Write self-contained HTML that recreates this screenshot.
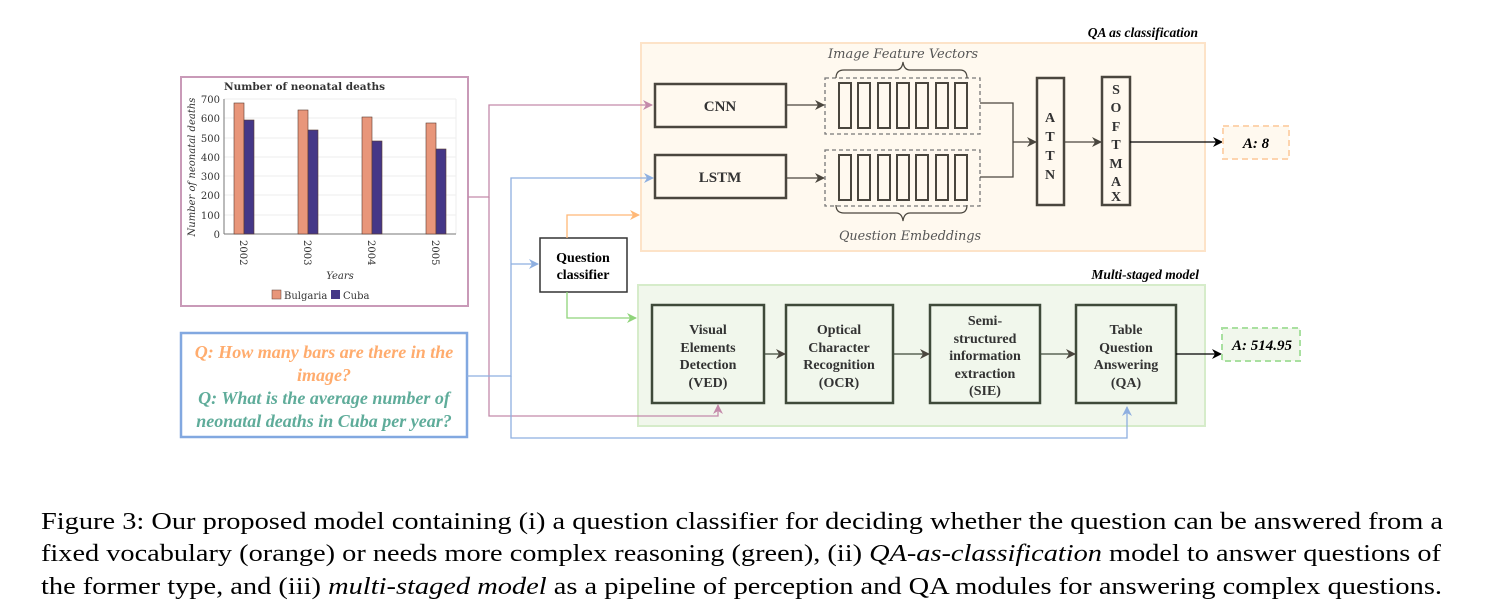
<!DOCTYPE html>
<html><head><meta charset="utf-8"><style>
html,body{margin:0;padding:0;background:#fff;}
svg{display:block;}
.s{font-family:"Liberation Serif","Times New Roman",serif;}
.d{font-family:"DejaVu Serif",serif;}
</style></head><body>
<svg width="1485" height="612" viewBox="0 0 1485 612" xmlns="http://www.w3.org/2000/svg">
<defs>
<marker id="ag" markerWidth="10" markerHeight="10" refX="9" refY="5" orient="auto" markerUnits="userSpaceOnUse"><path d="M0,0 L10,5 L0,10 L3,5 z" fill="#4a463e"/></marker>
<marker id="ab" markerWidth="10" markerHeight="10" refX="9" refY="5" orient="auto" markerUnits="userSpaceOnUse"><path d="M0,0 L10,5 L0,10 L3,5 z" fill="#000"/></marker>
<marker id="ap" markerWidth="10" markerHeight="10" refX="9" refY="5" orient="auto" markerUnits="userSpaceOnUse"><path d="M0,0 L10,5 L0,10 L3,5 z" fill="#c48aaa"/></marker>
<marker id="abl" markerWidth="10" markerHeight="10" refX="9" refY="5" orient="auto" markerUnits="userSpaceOnUse"><path d="M0,0 L10,5 L0,10 L3,5 z" fill="#8eafe0"/></marker>
<marker id="ao" markerWidth="10" markerHeight="10" refX="9" refY="5" orient="auto" markerUnits="userSpaceOnUse"><path d="M0,0 L10,5 L0,10 L3,5 z" fill="#ffb877"/></marker>
<marker id="agr" markerWidth="10" markerHeight="10" refX="9" refY="5" orient="auto" markerUnits="userSpaceOnUse"><path d="M0,0 L10,5 L0,10 L3,5 z" fill="#8fd47a"/></marker>
</defs>

<rect x="641" y="43" width="564" height="208" fill="#fff9ef" stroke="#fde3c8" stroke-width="2"/>
<rect x="638" y="285" width="567" height="141" fill="#f1f7ec" stroke="#d6ecca" stroke-width="2"/>
<text class="s" x="1198" y="37" text-anchor="end" font-size="13.5" font-weight="bold" font-style="italic">QA as classification</text>
<text class="s" x="1199" y="279" text-anchor="end" font-size="13.5" font-weight="bold" font-style="italic">Multi-staged model</text>

<rect x="181" y="77" width="287" height="229" fill="#fff" stroke="#c99ab8" stroke-width="2"/>
<g class="d" fill="#333">
<text x="224" y="90" font-size="10.5" font-weight="bold">Number of neonatal deaths</text>
<g stroke="#eee" stroke-width="1">
<line x1="224" y1="99" x2="456" y2="99"/><line x1="224" y1="118" x2="456" y2="118"/><line x1="224" y1="138" x2="456" y2="138"/><line x1="224" y1="157" x2="456" y2="157"/><line x1="224" y1="176" x2="456" y2="176"/><line x1="224" y1="195" x2="456" y2="195"/><line x1="224" y1="215" x2="456" y2="215"/>
<line x1="456" y1="99" x2="456" y2="234"/>
</g>
<line x1="224" y1="99" x2="224" y2="234" stroke="#777"/>
<line x1="224" y1="234" x2="456" y2="234" stroke="#777"/>
<g font-size="10" text-anchor="end">
<text x="220" y="103">700</text><text x="220" y="122">600</text><text x="220" y="142">500</text><text x="220" y="161">400</text><text x="220" y="180">300</text><text x="220" y="199">200</text><text x="220" y="219">100</text><text x="220" y="238">0</text>
</g>
<text transform="translate(195,167) rotate(-90)" font-size="10" font-style="italic" text-anchor="middle">Number of neonatal deaths</text>
<g stroke="#5a3a30" stroke-width="0.6">
<rect x="234" y="103" width="10" height="131" fill="#e8967a"/><rect x="244" y="120" width="10" height="114" fill="#453787"/>
<rect x="298" y="110" width="10" height="124" fill="#e8967a"/><rect x="308" y="130" width="10" height="104" fill="#453787"/>
<rect x="362" y="117" width="10" height="117" fill="#e8967a"/><rect x="372" y="141" width="10" height="93" fill="#453787"/>
<rect x="426" y="123" width="10" height="111" fill="#e8967a"/><rect x="436" y="149" width="10" height="85" fill="#453787"/>
</g>
<g font-size="10">
<text transform="translate(240,240) rotate(90)">2002</text>
<text transform="translate(304,240) rotate(90)">2003</text>
<text transform="translate(368,240) rotate(90)">2004</text>
<text transform="translate(432,240) rotate(90)">2005</text>
</g>
<text x="340" y="279" font-size="10" font-style="italic" text-anchor="middle">Years</text>
<rect x="272" y="290" width="9" height="9" fill="#e8967a" stroke="#5a3a30" stroke-width="0.5"/>
<text x="284" y="299" font-size="10">Bulgaria</text>
<rect x="331" y="290" width="9" height="9" fill="#453787"/>
<text x="343" y="299" font-size="10">Cuba</text>
</g>

<rect x="181" y="333" width="286" height="104" fill="#fff" stroke="#82a8e0" stroke-width="2.5"/>
<g class="s" font-size="18" font-weight="bold" font-style="italic" text-anchor="middle">
<text x="324" y="358" fill="#ffac6e">Q: How many bars are there in the</text>
<text x="324" y="381" fill="#ffac6e">image?</text>
<text x="324" y="404" fill="#5fac9a">Q: What is the average number of</text>
<text x="324" y="427" fill="#5fac9a">neonatal deaths in Cuba per year?</text>
</g>

<rect x="540" y="238" width="87" height="54" fill="#fff" stroke="#333" stroke-width="1.5"/>
<text class="s" x="583" y="262" text-anchor="middle" font-size="14" font-weight="bold">Question</text>
<text class="s" x="583" y="279" text-anchor="middle" font-size="14" font-weight="bold">classifier</text>

<polyline points="468,197 489,197 489,105 652,105" fill="none" stroke="#c48aaa" stroke-width="1.3" marker-end="url(#ap)"/>
<polyline points="489,197 489,416 718,416 718,405" fill="none" stroke="#c48aaa" stroke-width="1.3" marker-end="url(#ap)"/>
<polyline points="467,376 511,376 511,178 653,178" fill="none" stroke="#8eafe0" stroke-width="1.3" marker-end="url(#abl)"/>
<polyline points="511,264 538,264" fill="none" stroke="#8eafe0" stroke-width="1.3" marker-end="url(#abl)"/>
<polyline points="511,376 511,438 1127,438 1127,407" fill="none" stroke="#8eafe0" stroke-width="1.3" marker-end="url(#abl)"/>
<polyline points="567,238 567,215 639,215" fill="none" stroke="#ffb877" stroke-width="1.3" marker-end="url(#ao)"/>
<polyline points="567,292 567,318 636,318" fill="none" stroke="#8fd47a" stroke-width="1.3" marker-end="url(#agr)"/>

<g stroke="#4a463e" stroke-width="2.5" fill="none">
<rect x="655" y="84" width="131" height="43"/>
<rect x="655" y="155" width="131" height="43"/>
<rect x="1037" y="78" width="27" height="127"/>
<rect x="1102" y="77" width="28" height="128"/>
</g>
<g class="s" font-weight="bold" font-size="15" fill="#333" text-anchor="middle">
<text x="720" y="111">CNN</text>
<text x="720" y="182">LSTM</text>
</g>
<g class="s" font-weight="bold" font-size="14" fill="#333" text-anchor="middle">
<text x="1050" y="122">A</text><text x="1050" y="141">T</text><text x="1050" y="160">T</text><text x="1050" y="179">N</text>
<text x="1116" y="94">S</text><text x="1116" y="112">O</text><text x="1116" y="131">F</text><text x="1116" y="149">T</text><text x="1116" y="168">M</text><text x="1116" y="186">A</text><text x="1116" y="204" dy="-3">X</text>
</g>
<rect x="825" y="78" width="155" height="56" fill="none" stroke="#777" stroke-width="1.3" stroke-dasharray="4,3"/>
<rect x="825" y="150" width="155" height="56" fill="none" stroke="#777" stroke-width="1.3" stroke-dasharray="4,3"/>
<g stroke="#4a463e" stroke-width="2" fill="none">
<rect x="839" y="83" width="12" height="45"/><rect x="858" y="83" width="12" height="45"/><rect x="878" y="83" width="12" height="45"/><rect x="897" y="83" width="12" height="45"/><rect x="916" y="83" width="12" height="45"/><rect x="936" y="83" width="12" height="45"/><rect x="955" y="83" width="12" height="45"/>
<rect x="839" y="155" width="12" height="45"/><rect x="858" y="155" width="12" height="45"/><rect x="878" y="155" width="12" height="45"/><rect x="897" y="155" width="12" height="45"/><rect x="916" y="155" width="12" height="45"/><rect x="936" y="155" width="12" height="45"/><rect x="955" y="155" width="12" height="45"/>
</g>
<g stroke="#4a463e" stroke-width="1.2" fill="none">
<path d="M836,78 Q836,70 844,70 L896,70 Q902,70 903,62 Q904,70 910,70 L960,70 Q967,70 967,78"/>
<path d="M836,205 Q836,213 844,213 L896,213 Q902,213 903,221 Q904,213 910,213 L960,213 Q967,213 967,205"/>
</g>
<g class="d" font-style="italic" font-size="13" fill="#555" text-anchor="middle">
<text x="903" y="58" textLength="150" lengthAdjust="spacingAndGlyphs">Image Feature Vectors</text>
<text x="910" y="240" textLength="142" lengthAdjust="spacingAndGlyphs">Question Embeddings</text>
</g>
<g stroke="#4a463e" stroke-width="1.3" fill="none">
<line x1="786" y1="105" x2="824" y2="105" marker-end="url(#ag)"/>
<line x1="786" y1="178" x2="824" y2="178" marker-end="url(#ag)"/>
<polyline points="980,103 1013,103 1013,177 980,177"/>
<line x1="1013" y1="142" x2="1036" y2="142" marker-end="url(#ag)"/>
<line x1="1064" y1="142" x2="1101" y2="142" marker-end="url(#ag)"/>
</g>
<line x1="1130" y1="142" x2="1222" y2="142" stroke="#000" stroke-width="1.3" marker-end="url(#ab)"/>
<rect x="1223" y="126" width="66" height="33" fill="#fff9ef" stroke="#fdd4ae" stroke-width="2" stroke-dasharray="6,4"/>
<text class="s" x="1256" y="148" text-anchor="middle" font-size="15" font-weight="bold" font-style="italic">A: 8</text>

<g stroke="#3f4a3a" stroke-width="2.5" fill="none">
<rect x="652" y="305" width="112" height="98"/>
<rect x="786" y="305" width="107" height="98"/>
<rect x="930" y="305" width="110" height="98"/>
<rect x="1076" y="305" width="100" height="98"/>
</g>
<g class="s" font-weight="bold" font-size="14" fill="#333" text-anchor="middle">
<text x="708" y="334">Visual</text><text x="708" y="352">Elements</text><text x="708" y="369">Detection</text><text x="708" y="387">(VED)</text>
<text x="839" y="334">Optical</text><text x="839" y="352">Character</text><text x="839" y="369">Recognition</text><text x="839" y="387">(OCR)</text>
<text x="985" y="325">Semi-</text><text x="985" y="343">structured</text><text x="985" y="360">information</text><text x="985" y="378">extraction</text><text x="985" y="395">(SIE)</text>
<text x="1126" y="334">Table</text><text x="1126" y="352">Question</text><text x="1126" y="369">Answering</text><text x="1126" y="387">(QA)</text>
</g>
<g stroke="#3f4a3a" stroke-width="1.3">
<line x1="764" y1="354" x2="785" y2="354" marker-end="url(#ag)"/>
<line x1="893" y1="354" x2="929" y2="354" marker-end="url(#ag)"/>
<line x1="1040" y1="354" x2="1075" y2="354" marker-end="url(#ag)"/>
</g>
<line x1="1176" y1="354" x2="1221" y2="354" stroke="#000" stroke-width="1.3" marker-end="url(#ab)"/>
<rect x="1222" y="328" width="78" height="33" fill="#f1f7ec" stroke="#a9e0a0" stroke-width="2" stroke-dasharray="6,4"/>
<text class="s" x="1262" y="350" text-anchor="middle" font-size="15" font-weight="bold" font-style="italic">A: 514.95</text>

<g class="s" font-size="24" fill="#000">
<text x="41" y="529" textLength="1402" lengthAdjust="spacingAndGlyphs">Figure 3: Our proposed model containing (i) a question classifier for deciding whether the question can be answered from a</text>
<text x="41" y="561" textLength="1400" lengthAdjust="spacingAndGlyphs">fixed vocabulary (orange) or needs more complex reasoning (green), (ii) <tspan font-style="italic">QA-as-classification</tspan> model to answer questions of</text>
<text x="41" y="594" textLength="1401" lengthAdjust="spacingAndGlyphs">the former type, and (iii) <tspan font-style="italic">multi-staged model</tspan> as a pipeline of perception and QA modules for answering complex questions.</text>
</g>
</svg>
</body></html>
